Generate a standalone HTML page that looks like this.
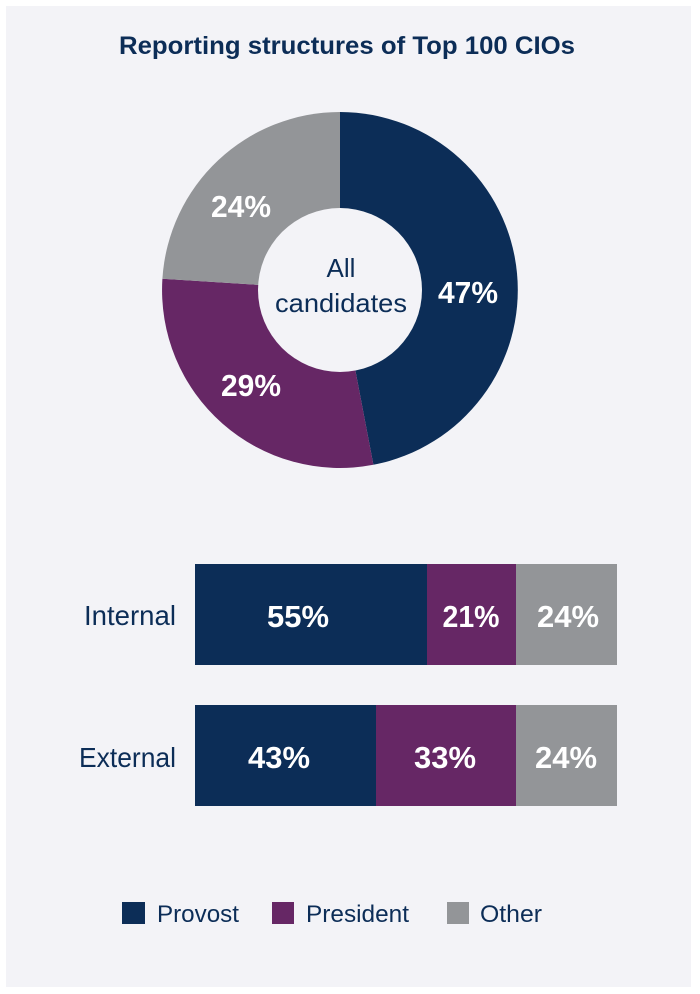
<!DOCTYPE html>
<html><head><meta charset="utf-8"><style>
html,body{margin:0;padding:0;background:#fff;}
body{width:700px;height:994px;position:relative;overflow:hidden;font-family:"Liberation Sans",sans-serif;}
</style></head><body>
<svg width="700" height="994" viewBox="0 0 700 994" xmlns="http://www.w3.org/2000/svg" style="position:absolute;left:0;top:0">
<rect x="6" y="6" width="685" height="981" fill="#f3f3f7"/>
<text x="347" y="54" text-anchor="middle" font-family="Liberation Sans, sans-serif" font-weight="bold" font-size="25" fill="#0c2d57" textLength="456" lengthAdjust="spacingAndGlyphs">Reporting structures of Top 100 CIOs</text>
<g transform="translate(340,290)">
<path d="M0,-178 A178,178 0 0 1 33.4,174.8 L0,0Z" fill="#0c2d57"/>
<path d="M33.4,174.8 A178,178 0 0 1 -177.6,-11.2 L0,0Z" fill="#662765"/>
<path d="M-177.6,-11.2 A178,178 0 0 1 0,-178 L0,0Z" fill="#939598"/>
<circle r="82" fill="#f3f3f7"/>
</g>
<g font-family="Liberation Sans, sans-serif" font-size="31" font-weight="bold" fill="#fff" text-anchor="middle">
<text x="241" y="217" textLength="60" lengthAdjust="spacingAndGlyphs">24%</text>
<text x="468" y="303" textLength="60" lengthAdjust="spacingAndGlyphs">47%</text>
<text x="251" y="396" textLength="60" lengthAdjust="spacingAndGlyphs">29%</text>
</g>
<g font-family="Liberation Sans, sans-serif" font-size="26" fill="#0c2d57" text-anchor="middle">
<text x="341" y="277">All</text>
<text x="341" y="312" textLength="132" lengthAdjust="spacingAndGlyphs">candidates</text>
</g>
<rect x="195" y="564" width="232" height="101" fill="#0c2d57"/>
<rect x="427" y="564" width="89" height="101" fill="#662765"/>
<rect x="516" y="564" width="101" height="101" fill="#939598"/>
<rect x="195" y="705" width="181" height="101" fill="#0c2d57"/>
<rect x="376" y="705" width="140" height="101" fill="#662765"/>
<rect x="516" y="705" width="101" height="101" fill="#939598"/>
<g font-family="Liberation Sans, sans-serif" font-size="31" font-weight="bold" fill="#fff" text-anchor="middle">
<text x="298" y="627" textLength="62" lengthAdjust="spacingAndGlyphs">55%</text>
<text x="471" y="627" textLength="57" lengthAdjust="spacingAndGlyphs">21%</text>
<text x="568" y="627" textLength="62" lengthAdjust="spacingAndGlyphs">24%</text>
<text x="279" y="768" textLength="62" lengthAdjust="spacingAndGlyphs">43%</text>
<text x="445" y="768" textLength="62" lengthAdjust="spacingAndGlyphs">33%</text>
<text x="566" y="768" textLength="62" lengthAdjust="spacingAndGlyphs">24%</text>
</g>
<g font-family="Liberation Sans, sans-serif" font-size="28" fill="#0c2d57">
<text x="176" y="625" text-anchor="end" textLength="92" lengthAdjust="spacingAndGlyphs">Internal</text>
<text x="176" y="767" text-anchor="end" textLength="97" lengthAdjust="spacingAndGlyphs">External</text>
</g>
<rect x="122" y="902" width="23" height="22" fill="#0c2d57"/>
<rect x="272" y="902" width="22" height="22" fill="#662765"/>
<rect x="447" y="902" width="22" height="22" fill="#939598"/>
<g font-family="Liberation Sans, sans-serif" font-size="24" fill="#0c2d57">
<text x="157" y="922" textLength="82" lengthAdjust="spacingAndGlyphs">Provost</text>
<text x="306" y="922" textLength="103" lengthAdjust="spacingAndGlyphs">President</text>
<text x="480" y="922" textLength="62" lengthAdjust="spacingAndGlyphs">Other</text>
</g>
</svg>
</body></html>
